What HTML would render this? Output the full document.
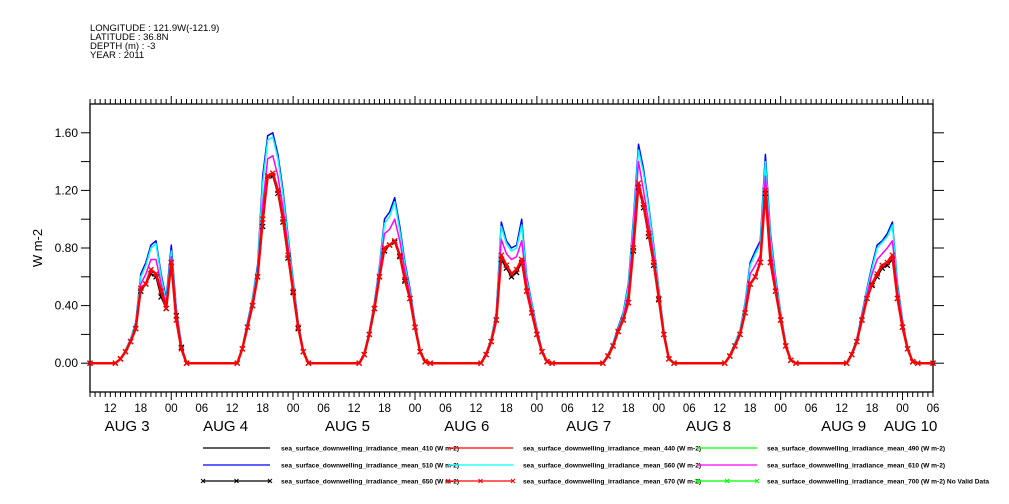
<!DOCTYPE html>
<html><head><meta charset="utf-8"><style>
html,body{margin:0;padding:0;background:#fff;}
svg{display:block;font-family:"Liberation Sans",sans-serif;}
</style></head><body>
<svg id="chart" width="1009" height="504" viewBox="0 0 1009 504" xmlns="http://www.w3.org/2000/svg">
  <g font-size="9.5" fill="#000">
    <text x="90" y="31">LONGITUDE : 121.9W(-121.9)</text>
    <text x="90" y="40">LATITUDE : 36.8N</text>
    <text x="90" y="49">DEPTH (m) : -3</text>
    <text x="90" y="58">YEAR : 2011</text>
  </g>
  <g id="axes"></g>
  <g id="series"></g>
  <g id="legend"></g>
</svg>
<script>
// ---- data (hours since Aug 3 00:00; each day block = hourly values 13:00..03:00 next day)
const xMin = 8, xMax = 174;
const yMin = -0.2, yMax = 1.8;
const dayBlockStart = [13, 37, 61, 85, 109, 133, 157];
const yTicks = [0.0, 0.4, 0.8, 1.2, 1.6];
const yTickLabels = ["0.00", "0.40", "0.80", "1.20", "1.60"];
const xTickHours = [12, 18, 24, 30, 36, 42, 48, 54, 60, 66, 72, 78, 84, 90, 96, 102, 108, 114, 120, 126, 132, 138, 144, 150, 156, 162, 168, 174];
const xTickLabels = ["12","18","00","06","12","18","00","06","12","18","00","06","12","18","00","06","12","18","00","06","12","18","00","06","12","18","00","06"];
const dayLabelHours = [15.3, 34.7, 58.7, 82.2, 106.2, 129.8, 156.4, 169.6];
const dayLabels = ["AUG   3", "AUG   4", "AUG   5", "AUG   6", "AUG   7", "AUG   8", "AUG   9", "AUG  10"];

const blue510 = [
 [0,0.03,0.09,0.17,0.28,0.62,0.70,0.82,0.85,0.62,0.45,0.82,0.38,0.13,0],
 [0,0.11,0.28,0.45,0.68,1.30,1.58,1.60,1.45,1.20,0.88,0.58,0.28,0.09,0],
 [0,0.07,0.22,0.42,0.68,1.00,1.05,1.15,0.95,0.70,0.52,0.28,0.09,0.01,0],
 [0,0.07,0.17,0.35,0.98,0.85,0.80,0.82,1.00,0.60,0.42,0.24,0.09,0.01,0],
 [0,0.06,0.14,0.25,0.35,0.55,1.00,1.52,1.35,1.10,0.82,0.52,0.23,0.04,0],
 [0,0.06,0.14,0.23,0.42,0.70,0.78,0.85,1.45,0.90,0.60,0.35,0.14,0.02,0],
 [0,0.07,0.17,0.34,0.52,0.68,0.82,0.85,0.90,0.98,0.55,0.30,0.11,0.01,0]];
const cyan560 = [
 [0,0.03,0.09,0.17,0.27,0.60,0.68,0.80,0.83,0.60,0.43,0.78,0.37,0.13,0],
 [0,0.11,0.27,0.44,0.66,1.25,1.55,1.57,1.42,1.17,0.86,0.56,0.27,0.09,0],
 [0,0.07,0.22,0.41,0.67,0.97,1.02,1.12,0.92,0.68,0.50,0.27,0.09,0.01,0],
 [0,0.07,0.17,0.34,0.95,0.83,0.78,0.80,0.96,0.58,0.41,0.23,0.09,0.01,0],
 [0,0.06,0.14,0.24,0.34,0.53,0.97,1.48,1.32,1.08,0.80,0.51,0.23,0.04,0],
 [0,0.06,0.14,0.23,0.41,0.68,0.76,0.82,1.40,0.87,0.58,0.34,0.14,0.02,0],
 [0,0.07,0.17,0.33,0.51,0.66,0.80,0.84,0.88,0.96,0.53,0.29,0.11,0.01,0]];
const magenta610 = [
 [0,0.03,0.08,0.16,0.25,0.55,0.62,0.72,0.72,0.55,0.40,0.74,0.35,0.12,0],
 [0,0.10,0.26,0.42,0.63,1.10,1.42,1.44,1.30,1.08,0.80,0.52,0.26,0.08,0],
 [0,0.07,0.21,0.40,0.64,0.90,0.93,1.00,0.85,0.64,0.48,0.26,0.08,0.01,0],
 [0,0.07,0.16,0.32,0.86,0.76,0.72,0.74,0.85,0.55,0.38,0.22,0.08,0.01,0],
 [0,0.05,0.13,0.23,0.32,0.48,0.90,1.40,1.20,0.98,0.75,0.48,0.21,0.03,0],
 [0,0.05,0.13,0.21,0.38,0.62,0.68,0.75,1.30,0.80,0.54,0.32,0.13,0.02,0],
 [0,0.06,0.16,0.32,0.48,0.62,0.72,0.76,0.80,0.85,0.50,0.28,0.10,0.01,0]];
const black650 = [
 [0,0.03,0.08,0.15,0.24,0.50,0.55,0.62,0.60,0.46,0.38,0.70,0.33,0.11,0],
 [0,0.10,0.25,0.40,0.60,0.95,1.30,1.30,1.18,0.98,0.73,0.49,0.24,0.08,0],
 [0,0.06,0.20,0.38,0.60,0.78,0.82,0.84,0.74,0.57,0.45,0.25,0.08,0.01,0],
 [0,0.06,0.15,0.30,0.72,0.66,0.60,0.63,0.70,0.50,0.35,0.20,0.08,0.01,0],
 [0,0.05,0.12,0.22,0.30,0.42,0.78,1.22,1.08,0.88,0.68,0.44,0.20,0.03,0],
 [0,0.05,0.12,0.20,0.35,0.55,0.60,0.70,1.18,0.70,0.50,0.30,0.12,0.02,0],
 [0,0.06,0.15,0.30,0.45,0.54,0.60,0.66,0.68,0.72,0.45,0.25,0.10,0.01,0]];
const red670 = [
 [0,0.03,0.08,0.15,0.24,0.52,0.55,0.65,0.62,0.50,0.38,0.70,0.30,0.10,0],
 [0,0.10,0.25,0.40,0.60,1.00,1.30,1.32,1.20,1.00,0.75,0.50,0.25,0.08,0],
 [0,0.06,0.20,0.38,0.60,0.80,0.82,0.85,0.75,0.58,0.45,0.25,0.08,0.01,0],
 [0,0.06,0.15,0.30,0.75,0.68,0.62,0.65,0.72,0.50,0.35,0.20,0.08,0.01,0],
 [0,0.05,0.12,0.22,0.30,0.42,0.80,1.25,1.10,0.90,0.70,0.45,0.20,0.03,0],
 [0,0.05,0.12,0.20,0.35,0.55,0.60,0.70,1.20,0.70,0.50,0.30,0.12,0.02,0],
 [0,0.06,0.15,0.30,0.45,0.55,0.62,0.68,0.70,0.75,0.45,0.25,0.10,0.01,0]];

const legendLabels = [
 "sea_surface_downwelling_irradiance_mean_410 (W m-2)","sea_surface_downwelling_irradiance_mean_440 (W m-2)","sea_surface_downwelling_irradiance_mean_490 (W m-2)",
 "sea_surface_downwelling_irradiance_mean_510 (W m-2)","sea_surface_downwelling_irradiance_mean_560 (W m-2)","sea_surface_downwelling_irradiance_mean_610 (W m-2)",
 "sea_surface_downwelling_irradiance_mean_650 (W m-2)","sea_surface_downwelling_irradiance_mean_670 (W m-2)","sea_surface_downwelling_irradiance_mean_700 (W m-2) No Valid Data"];

// ---- layout
const L = 90, R = 933, T = 104, B = 392;
const NS = "http://www.w3.org/2000/svg";
const xs = h => L + (h - xMin) / (xMax - xMin) * (R - L);
const ys = v => B - (v - yMin) / (yMax - yMin) * (B - T);
function mk(tag, attrs, parent) {
  const e = document.createElementNS(NS, tag);
  for (const k in attrs) e.setAttribute(k, attrs[k]);
  parent.appendChild(e);
  return e;
}
const axes = document.getElementById('axes');
const frame = mk('rect', {x: L, y: T, width: R - L, height: B - T, fill: 'none', stroke: '#000', 'stroke-width': 1.3}, axes);



// hour ticks
for (let h = xMin; h <= xMax; h++) {
  const x = xs(h);
  const major = (h % 24 === 0);
  const len = major ? 8 : 5;
  const tb = mk('line', {x1: x, x2: x, y1: B, y2: B + len, stroke: '#000', 'stroke-width': 1}, axes);
  
  
  const tt = mk('line', {x1: x, x2: x, y1: T, y2: T - len, stroke: '#000', 'stroke-width': 1}, axes);
  
  
}
xTickHours.forEach((h, i) => {
  const t = mk('text', {x: xs(h), y: 412, 'font-size': 11.5, 'text-anchor': 'middle'}, axes);
  
  
  t.textContent = xTickLabels[i];
});
dayLabelHours.forEach((h, i) => {
  const t = mk('text', {x: xs(h), y: 431, 'font-size': 15, 'text-anchor': 'middle', 'xml:space': 'preserve'}, axes);
  
  
  t.textContent = dayLabels[i];
});
// y ticks every 0.2
for (let k = 0; k <= 10; k++) {
  const v = yMin + k * 0.2;
  const y = ys(v);
  if (k === 0 || k === 10) continue;
  const tl = mk('line', {x1: L - 9, x2: L, y1: y, y2: y, stroke: '#000', 'stroke-width': 1}, axes);
  
  
  const tr = mk('line', {x1: R, x2: R + 11, y1: y, y2: y, stroke: '#000', 'stroke-width': 1}, axes);
  
  
}
yTicks.forEach((v, i) => {
  const t = mk('text', {x: 78, y: ys(v) + 4, 'font-size': 12, 'text-anchor': 'end'}, axes);
  
  
  t.textContent = yTickLabels[i];
});
const yt = mk('text', {x: 0, y: 0, 'font-size': 13, 'text-anchor': 'middle', transform: 'translate(42,248) rotate(-90)'}, axes);


yt.textContent = 'W m-2';

// series
const sg = document.getElementById('series');
function points(blocks) {
  const pts = [[xMin, 0]];
  blocks.forEach((vals, d) => vals.forEach((v, i) => pts.push([dayBlockStart[d] + i, v])));
  pts.push([xMax, 0]);
  return pts;
}
function drawSeries(blocks, color, width, name, marker) {
  const pts = points(blocks);
  const p = mk('polyline', {points: pts.map(q => xs(q[0]).toFixed(1) + ',' + ys(q[1]).toFixed(1)).join(' '), fill: 'none', stroke: color, 'stroke-width': width, 'stroke-linejoin': 'round'}, sg);
  
  
  if (marker) {
    pts.forEach(q => {
      const x = xs(q[0]), y = ys(q[1]);
      const m = mk('path', {d: `M${x-2.5},${y-2.5}L${x+2.5},${y+2.5}M${x-2.5},${y+2.5}L${x+2.5},${y-2.5}`, stroke: color, 'stroke-width': 1.3}, sg);
      
      
    });
  }
}
drawSeries(blue510, '#0000ff', 1.5, 'series-510', false);
drawSeries(cyan560, '#00ffff', 1.5, 'series-560', false);
drawSeries(magenta610, '#ff00ff', 1.5, 'series-610', false);
drawSeries(black650, '#000000', 1.5, 'series-650', true);
drawSeries(red670, '#ff0000', 2.5, 'series-670', true);

// legend
const lg = document.getElementById('legend');
const colX = [[203, 270, 281], [448, 513, 523], [697, 757, 767]];
const rowY = [448, 465, 481];
const legColors = ['#000000', '#ff0000', '#00ff00', '#0000ff', '#00ffff', '#ff00ff', '#000000', '#ff0000', '#00ff00'];
legendLabels.forEach((lab, i) => {
  const r = Math.floor(i / 3), c = i % 3;
  const [x1, x2, tx] = colX[c];
  const y = rowY[r];
  const ln = mk('line', {x1: x1, x2: x2, y1: y, y2: y, stroke: legColors[i], 'stroke-width': 1.2}, lg);
  
  
  if (r === 2) {
    [x1, (x1 + x2) / 2, x2].forEach(mx => {
      const m = mk('path', {d: `M${mx-2},${y-2}L${mx+2},${y+2}M${mx-2},${y+2}L${mx+2},${y-2}`, stroke: legColors[i], 'stroke-width': 1}, lg);
      
      
    });
  }
  const t = mk('text', {x: tx, y: y + 2.5, 'font-size': 6.6, 'font-weight': 'bold'}, lg);
  
  
  t.textContent = lab;
});
</script>
</body></html>
